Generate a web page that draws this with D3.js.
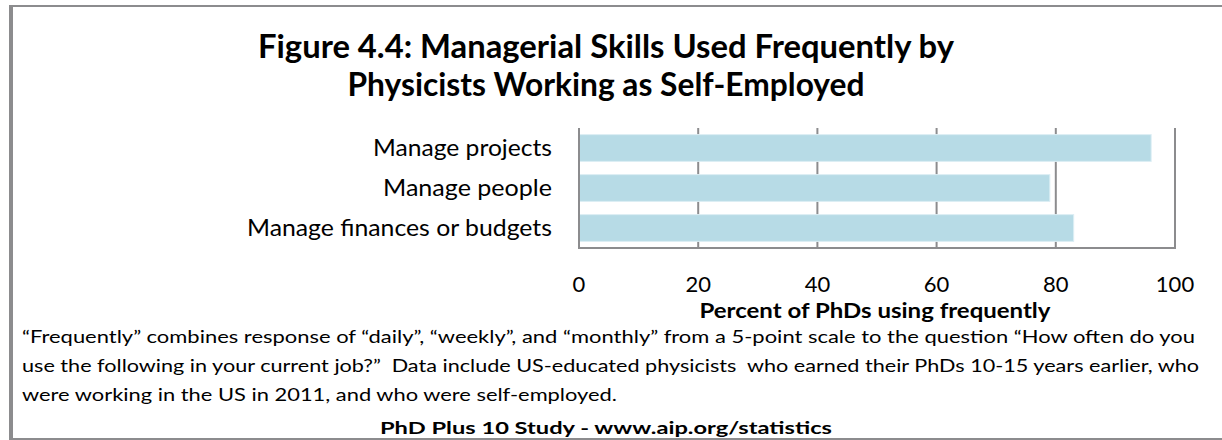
<!DOCTYPE html>
<html>
<head>
<meta charset="utf-8">
<script src="https://cdn.jsdelivr.net/npm/d3@7"></script>
<style>
  body { margin: 0; background: #fff; }
  svg { display: block; font-family: Lato, "Open Sans", sans-serif; }
  .note { white-space: pre; }
</style>
</head>
<body>
<div class="chart"></div>
<script>
// values
const categories = ["Manage projects", "Manage people", "Manage finances or budgets"];
const percents = [96, 79, 83];
const tickValues = [0, 20, 40, 60, 80, 100];

const titleLines = ["Figure 4.4: Managerial Skills Used Frequently by",
                    "Physicists Working as Self-Employed"];
const noteLines = [
  "\u201cFrequently\u201d combines response of \u201cdaily\u201d, \u201cweekly\u201d, and \u201cmonthly\u201d from a 5-point scale to the question \u201cHow often do you",
  "use the following in your current job?\u201d  Data include US-educated physicists  who earned their PhDs 10-15 years earlier, who",
  "were working in the US in 2011, and who were self-employed."
];
const sourceText = "PhD Plus 10 Study - www.aip.org/statistics";

// text widths measured on the original (it used a wider font)
const titleWidths = [696, 517];
const catWidths = [179, 169, 305];
const noteWidths = [1173, 1177, 595];

const width = 1222;
const height = 440;
const grey = "#8c8c8e";

const svg = d3.select('.chart')
  .append('svg')
  .attr('width', width)
  .attr('height', height)

// frame
svg.append("rect").attr("x", 9).attr("y", 5).attr("width", 4).attr("height", 435).attr("fill", grey)
svg.append("rect").attr("x", 9).attr("y", 5).attr("width", 1213).attr("height", 2).attr("fill", grey)
svg.append("rect").attr("x", 9).attr("y", 438).attr("width", 1213).attr("height", 2).attr("fill", grey)

// title
svg.selectAll("text.title")
  .data(titleLines)
  .enter()
  .append("text")
  .attr("class", "title")
  .attr("x", 606)
  .attr("y", (d, i) => 58 + i * 38)
  .attr("text-anchor", "middle")
  .attr("font-size", 32)
  .attr("font-weight", "bold")
  .attr("textLength", (d, i) => titleWidths[i])
  .attr("lengthAdjust", "spacingAndGlyphs")
  .text(d => d)

const x = d3.scaleLinear().domain([0, 100]).range([579, 1175]);
const y = d3.scaleBand().domain(categories).range([128, 248])
  .paddingInner(0.33).paddingOuter(0.165);

// gridlines
svg.selectAll("line.grid")
  .data(tickValues.slice(1))
  .enter()
  .append("line")
  .attr("class", "grid")
  .attr("x1", d => x(d))
  .attr("x2", d => x(d))
  .attr("y1", 128)
  .attr("y2", 248)
  .attr("stroke", grey)
  .attr("stroke-width", 2)

// bars
svg.selectAll("rect.bar")
  .data(percents)
  .enter()
  .append("rect")
  .attr("class", "bar")
  .attr("x", x(0))
  .attr("y", (d, i) => y(categories[i]))
  .attr("width", d => x(d) - x(0))
  .attr("height", y.bandwidth())
  .attr("fill", "#b7dbe6")
  .attr("stroke", "#dceef4")
  .attr("stroke-width", 1)

// axis lines
svg.append("line").attr("x1", x(0)).attr("x2", x(0)).attr("y1", 128).attr("y2", 249)
  .attr("stroke", grey).attr("stroke-width", 2)
svg.append("line").attr("x1", x(0) - 1).attr("x2", x(100) + 1).attr("y1", 248).attr("y2", 248)
  .attr("stroke", grey).attr("stroke-width", 2)

// category labels
svg.selectAll("text.cat")
  .data(categories)
  .enter()
  .append("text")
  .attr("class", "cat")
  .attr("x", 552)
  .attr("y", d => y(d) + y.bandwidth() / 2)
  .attr("dy", "0.36em")
  .attr("text-anchor", "end")
  .attr("font-size", 23)
  .attr("textLength", (d, i) => catWidths[i])
  .attr("lengthAdjust", "spacingAndGlyphs")
  .text(d => d)

// tick labels
svg.selectAll("text.tick")
  .data(tickValues)
  .enter()
  .append("text")
  .attr("class", "tick")
  .attr("x", d => x(d))
  .attr("y", 292)
  .attr("text-anchor", "middle")
  .attr("font-size", 22)
  .text(d => d)

svg.append("text")
  .attr("x", 875)
  .attr("y", 318)
  .attr("text-anchor", "middle")
  .attr("font-size", 21)
  .attr("font-weight", "bold")
  .attr("textLength", 351)
  .attr("lengthAdjust", "spacingAndGlyphs")
  .text("Percent of PhDs using frequently")

// note
svg.selectAll("text.note")
  .data(noteLines)
  .enter()
  .append("text")
  .attr("class", "note")
  .attr("x", 22)
  .attr("y", (d, i) => 343 + i * 29)
  .attr("font-size", 18)
  .attr("textLength", (d, i) => noteWidths[i])
  .attr("lengthAdjust", "spacingAndGlyphs")
  .text(d => d)

svg.append("text")
  .attr("x", 606)
  .attr("y", 434)
  .attr("text-anchor", "middle")
  .attr("font-size", 17)
  .attr("font-weight", "bold")
  .attr("textLength", 452)
  .attr("lengthAdjust", "spacingAndGlyphs")
  .text(sourceText)
</script>
</body>
</html>
